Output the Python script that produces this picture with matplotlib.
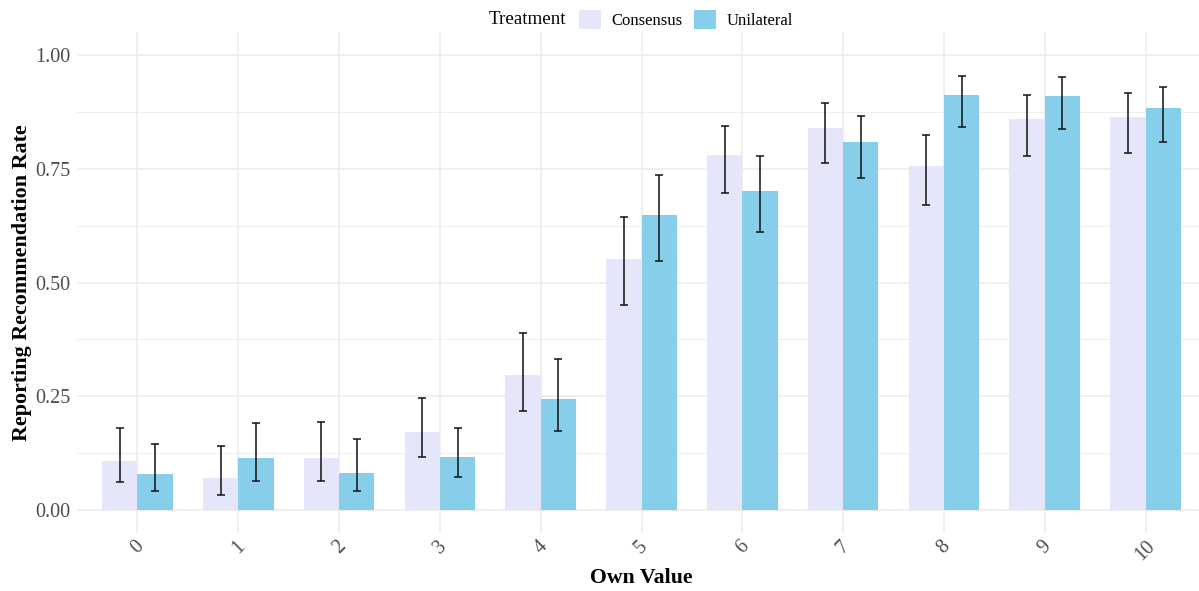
import matplotlib
matplotlib.use("Agg")
import matplotlib.pyplot as plt
from matplotlib.patches import Patch
from matplotlib.ticker import MultipleLocator
import numpy as np

categories = ["0", "1", "2", "3", "4", "5", "6", "7", "8", "9", "10"]
consensus = [0.108, 0.070, 0.114, 0.171, 0.297, 0.552, 0.780, 0.840, 0.756, 0.859, 0.864]
consensus_lo = [0.062, 0.034, 0.064, 0.116, 0.218, 0.451, 0.696, 0.763, 0.671, 0.779, 0.785]
consensus_hi = [0.180, 0.141, 0.194, 0.247, 0.388, 0.645, 0.845, 0.895, 0.824, 0.913, 0.917]
unilateral = [0.079, 0.114, 0.081, 0.116, 0.244, 0.648, 0.701, 0.809, 0.912, 0.910, 0.884]
unilateral_lo = [0.042, 0.064, 0.042, 0.073, 0.174, 0.547, 0.611, 0.730, 0.841, 0.837, 0.809]
unilateral_hi = [0.145, 0.192, 0.155, 0.181, 0.331, 0.737, 0.777, 0.867, 0.953, 0.952, 0.930]
yticks = [0.00, 0.25, 0.50, 0.75, 1.00]
ytick_labels = ["0.00", "0.25", "0.50", "0.75", "1.00"]

plt.rcParams["font.family"] = ["Liberation Serif", "DejaVu Serif"]

W, H = 1199, 591
fig = plt.figure(figsize=(W / 100, H / 100), dpi=100)
left_px, right_px = 77, 1206
top_px, bot_px = 32.25, 532.75
ax = fig.add_axes([left_px / W, 1 - bot_px / H, (right_px - left_px) / W, (bot_px - top_px) / H])

c_col = "#E6E6FA"
u_col = "#87CEEB"
x = np.arange(len(categories))
bw = 0.35

ax.set_axisbelow(True)
ax.bar(x - bw / 2, consensus, width=bw, color=c_col, zorder=2)
ax.bar(x + bw / 2, unilateral, width=bw, color=u_col, zorder=2)

c = np.array(consensus); u = np.array(unilateral)
ax.errorbar(x - bw / 2, c, yerr=[c - np.array(consensus_lo), np.array(consensus_hi) - c],
            fmt="none", ecolor="#111111", elinewidth=1.1, capsize=3, capthick=1.1, zorder=3)
ax.errorbar(x + bw / 2, u, yerr=[u - np.array(unilateral_lo), np.array(unilateral_hi) - u],
            fmt="none", ecolor="#111111", elinewidth=1.1, capsize=3, capthick=1.1, zorder=3)

ax.set_xlim(-0.6, len(categories) - 1 + 0.6)
ax.set_ylim(-0.05, 1.05)
ax.set_yticks(yticks)
ax.set_yticklabels(ytick_labels)
ax.yaxis.set_minor_locator(MultipleLocator(0.125))
ax.set_xticks(x)
ax.set_xticklabels(categories, rotation=45, ha="center", va="top")

ax.grid(which="major", axis="both", color="#EBEBEB", linewidth=1.1)
ax.grid(which="minor", axis="y", color="#EBEBEB", linewidth=0.6)
for s in ax.spines.values():
    s.set_visible(False)
ax.tick_params(axis="both", which="both", length=0, labelsize=14.5, labelcolor="#4D4D4D")
ax.tick_params(axis="y", pad=5)
ax.tick_params(axis="x", pad=3.2)

ax.set_xlabel("Own Value", fontsize=15.7, fontweight="bold", labelpad=2.5)
ax.set_ylabel("Reporting Recommendation Rate", fontsize=15.8, fontweight="bold", labelpad=2)

fig.text(489 / W, 1 - 19.5 / H, "Treatment", fontsize=13.7, ha="left", va="center")
handles = [Patch(facecolor=c_col, edgecolor="none"), Patch(facecolor=u_col, edgecolor="none")]
fig.legend(handles, ["Consensus", "Unilateral"], ncol=2, loc="center left",
           bbox_to_anchor=(579 / W, 1 - 19.5 / H), frameon=False, fontsize=12,
           handlelength=1.32, handleheight=1.38, handletextpad=0.63, columnspacing=0.69,
           borderpad=0, borderaxespad=0)

fig.savefig("out.png", dpi=100)
